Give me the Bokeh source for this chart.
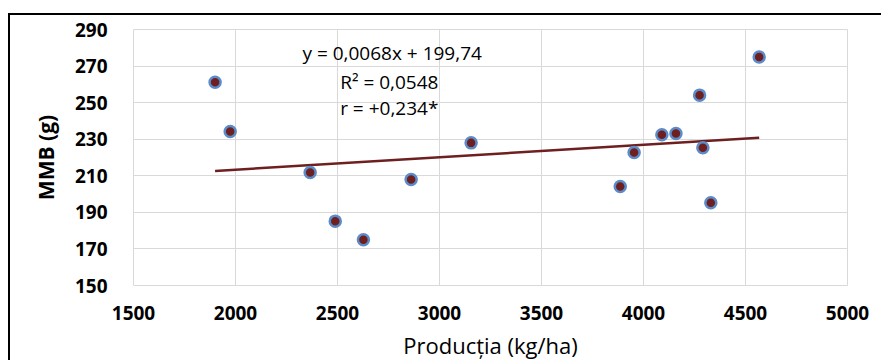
from bokeh.plotting import figure
from bokeh.models import Label, ColumnDataSource, FixedTicker, Range1d
from bokeh.embed import file_html
from bokeh.resources import INLINE

# Data
productie = [1900, 1974, 2366, 2489, 2627, 2861, 3155, 3886, 3954, 4090, 4159, 4275, 4291, 4330, 4567]
mmb = [261.2, 234.2, 211.8, 185.2, 175.0, 208.0, 228.0, 204.1, 222.7, 232.4, 233.1, 254.1, 225.3, 195.2, 275.0]
slope = 0.0068
intercept = 199.74
x_ticks = [1500, 2000, 2500, 3000, 3500, 4000, 4500, 5000]
y_ticks = [150, 170, 190, 210, 230, 250, 270, 290]
eq_lines = ["y = 0,0068x + 199,74", "R\u00b2 = 0,0548", "r = +0,234*"]

FONT = "Open Sans"
TXT = "#000000"

p = figure(width=873, height=347, output_backend="svg", toolbar_location=None,
           x_range=Range1d(1500, 5000), y_range=Range1d(150, 290),
           min_border_left=123, min_border_right=36, min_border_top=14, min_border_bottom=77,
           styles={"margin-left": "8px", "margin-top": "13px",
                   "border-top": "2px solid black", "border-left": "2px solid black"})

p.outline_line_color = "#D9D9D9"
p.outline_line_width = 1
p.xgrid.grid_line_color = "#D9D9D9"
p.ygrid.grid_line_color = "#D9D9D9"
p.xgrid.grid_line_width = 1
p.ygrid.grid_line_width = 1

p.xaxis.ticker = FixedTicker(ticks=x_ticks)
p.yaxis.ticker = FixedTicker(ticks=y_ticks)
for ax in (p.xaxis, p.yaxis):
    ax.axis_line_color = None
    ax.major_tick_line_color = None
    ax.minor_tick_line_color = None
    ax.major_label_text_font = FONT
    ax.major_label_text_font_style = "bold"
    ax.major_label_text_font_size = "19px"
    ax.major_label_text_color = TXT
    ax.axis_label_text_font = FONT
    ax.axis_label_text_color = TXT

p.xaxis.axis_label = "Producția (kg/ha)"
p.xaxis.axis_label_text_font_style = "normal"
p.xaxis.axis_label_text_font_size = "22px"
p.xaxis.major_label_standoff = 14
p.xaxis.axis_label_standoff = 7
p.yaxis.axis_label = "MMB (g)"
p.yaxis.axis_label_text_font_style = "bold"
p.yaxis.axis_label_text_font_size = "21px"
p.yaxis.major_label_standoff = 20
p.yaxis.axis_label_standoff = 12

# trend line over the data's span
x0, x1 = min(productie), max(productie)
p.line([x0, x1], [slope * x0 + intercept, slope * x1 + intercept],
       line_color="#6E1F1F", line_width=2.5)

src = ColumnDataSource(dict(x=productie, y=mmb))
p.scatter("x", "y", source=src, size=11, fill_color="#6E1F1F",
          line_color="#5B8BC9", line_width=2.5)

p.add_layout(Label(x=2768, y=277, text=eq_lines[0], text_align="center", text_baseline="middle",
                   text_font=FONT, text_font_size="19px", text_color=TXT))
p.add_layout(Label(x=2513, y=261.2, text=eq_lines[1], text_align="left", text_baseline="middle",
                   text_font=FONT, text_font_size="19px", text_color=TXT))
p.add_layout(Label(x=2513, y=247, text=eq_lines[2], text_align="left", text_baseline="middle",
                   text_font=FONT, text_font_size="19px", text_color=TXT))

open("out.html", "w").write(file_html(p, INLINE))
